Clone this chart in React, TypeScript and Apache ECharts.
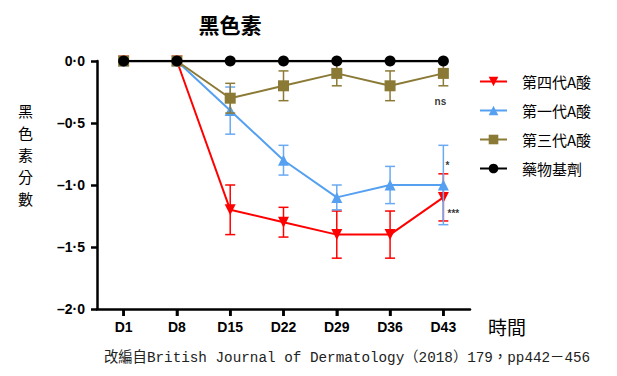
import React, { useEffect, useRef } from "react";
import * as echarts from "echarts";

const days = ["D1", "D8", "D15", "D22", "D29", "D36", "D43"];
const seriesNames = ["第四代A酸", "第一代A酸", "第三代A酸", "藥物基劑"];
const gen4 = [0, 0, -1.2, -1.3, -1.4, -1.4, -1.1];
const gen4Err = [0, 0, 0.2, 0.12, 0.19, 0.19, 0.19];
const gen1 = [0, 0, -0.4, -0.8, -1.1, -1.0, -1.0];
const gen1Err = [0, 0, 0.19, 0.12, 0.1, 0.15, 0.32];
const gen3 = [0, 0, -0.3, -0.2, -0.1, -0.2, -0.1];
const gen3Err = [0, 0, 0.12, 0.12, 0.1, 0.12, 0.1];
const vehicle = [0, 0, 0, 0, 0, 0, 0];
const annotations: [string, number, number][] = [
  ["ns", -0.33, -3],
  ["*", -0.84, 4],
  ["***", -1.23, 10],
];
const yNameChars = ["黑", "色", "素", "分", "數"];
const Y_MIN = -2;

const RED = "#ff0000";
const BLUE = "#55a0f0";
const BLUE_ERR = "#6aaaf2";
const OLIVE = "#8b7a35";
const BLACK = "#000000";

function fmt(v: number) {
  const s = Math.abs(v).toFixed(1).replace(".", "·");
  return (v < 0 ? "–" : "") + s;
}

function errSeries(name: string, vals: number[], errs: number[], color: string, z: number) {
  return {
    type: "custom",
    name: name + "_err",
    z,
    silent: true,
    data: vals.map((v, i) => [i, v - errs[i], v + errs[i]]),
    renderItem: (params: any, api: any) => {
      const lo = api.coord([api.value(0), api.value(1)]);
      const hi = api.coord([api.value(0), api.value(2)]);
      if (Math.abs(hi[1] - lo[1]) < 0.5) return null;
      const w = 5;
      const style = { stroke: color, lineWidth: 1.5 };
      return {
        type: "group",
        children: [
          { type: "line", shape: { x1: lo[0], y1: lo[1], x2: hi[0], y2: hi[1] }, style },
          { type: "line", shape: { x1: lo[0] - w, y1: lo[1], x2: lo[0] + w, y2: lo[1] }, style },
          { type: "line", shape: { x1: hi[0] - w, y1: hi[1], x2: hi[0] + w, y2: hi[1] }, style },
        ],
      };
    },
  };
}

export default function App() {
  const ref = useRef<HTMLDivElement>(null);
  useEffect(() => {
    const chart = echarts.init(ref.current!, null, { renderer: "svg" });
    const lineSeries = (name: string, data: number[], color: string, symbol: string, size: number, z: number, rotate = 0, lw = 2) => ({
      type: "line",
      name,
      data,
      z,
      symbol,
      symbolSize: size,
      symbolRotate: rotate,
      showAllSymbol: true,
      itemStyle: { color },
      lineStyle: { color, width: lw },
    });
    chart.setOption({
      animation: false,
      grid: { left: 97, right: 147, top: 61, bottom: 67 },
      title: {
        text: "黑色素",
        left: 225,
        top: 8,
        textAlign: "center",
        textStyle: { fontFamily: "Noto Sans CJK TC", fontSize: 21, fontWeight: "bold", color: "#000" },
      },
      legend: {
        orient: "vertical",
        left: 474,
        top: 69,
        itemWidth: 27,
        itemHeight: 12,
        itemGap: 14,
        data: seriesNames,
        textStyle: { fontFamily: "Noto Sans CJK TC", fontSize: 15, color: "#000", padding: [0, 0, 0, 10] },
      },
      xAxis: {
        type: "category",
        data: days,
        boundaryGap: true,
        axisLine: { onZero: false, lineStyle: { color: "#000", width: 2.5 } },
        axisTick: { show: true, interval: 0, alignWithLabel: true, length: 7, lineStyle: { color: "#000", width: 2.5 } },
        axisLabel: { margin: 11, color: "#000", fontFamily: "Liberation Sans", fontWeight: "bold", fontSize: 14 },
      },
      yAxis: {
        type: "value",
        min: Y_MIN,
        max: 0,
        interval: 0.5,
        splitLine: { show: false },
        axisLine: { show: true, onZero: false, lineStyle: { color: "#000", width: 2.5 } },
        axisTick: { show: true, length: 6, lineStyle: { color: "#000", width: 2.5 } },
        axisLabel: { margin: 12, color: "#000", fontFamily: "Liberation Sans", fontWeight: "bold", fontSize: 14, formatter: fmt },
      },
      graphic: [
        ...yNameChars.map((c, i) => ({
          type: "text",
          left: 18,
          top: 102 + i * 22,
          style: { text: c, fontFamily: "Noto Sans CJK TC", fontSize: 15, lineHeight: 16, fill: "#000" },
        })),
        {
          type: "text",
          left: 488,
          top: 317,
          style: { text: "時間", fontFamily: "Noto Sans CJK TC", fontSize: 19, fill: "#000" },
        },
        {
          type: "text",
          left: 104,
          top: 351,
          style: {
            text: "改編自British Journal of Dermatology（2018）179，pp442－456",
            fontFamily: "Liberation Mono, Noto Sans CJK TC",
            fontSize: 14.3,
            fill: "#222",
          },
        },
      ],
      series: [
        {
          type: "custom",
          name: "xticks",
          silent: true,
          clip: false,
          z: 1,
          data: days.map((_, i) => [i, Y_MIN]),
          renderItem: (params: any, api: any) => {
            const p = api.coord([api.value(0), api.value(1)]);
            return {
              type: "line",
              shape: { x1: p[0], y1: p[1], x2: p[0], y2: p[1] + 7 },
              style: { stroke: "#000", lineWidth: 2.5 },
            };
          },
        },
        errSeries("r", gen4, gen4Err, RED, 2),
        lineSeries(seriesNames[0], gen4, RED, "triangle", 11, 3, 180),
        errSeries("b", gen1, gen1Err, BLUE_ERR, 4),
        lineSeries(seriesNames[1], gen1, BLUE, "triangle", 11, 5),
        errSeries("o", gen3, gen3Err, OLIVE, 6),
        lineSeries(seriesNames[2], gen3, OLIVE, "rect", 11, 7),
        lineSeries(seriesNames[3], vehicle, BLACK, "circle", 11, 8, 0, 2.5),
        {
          type: "scatter",
          name: "sig",
          symbolSize: 0,
          z: 9,
          silent: true,
          data: annotations.map((a) => ({
            value: [days.length - 1, a[1]],
            label: {
              show: true,
              formatter: a[0],
              offset: [a[2], 0],
              position: "inside",
              fontFamily: "Liberation Sans",
              fontWeight: "bold",
              fontSize: 10,
              color: "#000",
            },
          })),
        },
      ],
    });
    return () => chart.dispose();
  }, []);
  return <div ref={ref} style={{ width: 617, height: 376, position: "absolute", left: 0, top: 0 }} />;
}
